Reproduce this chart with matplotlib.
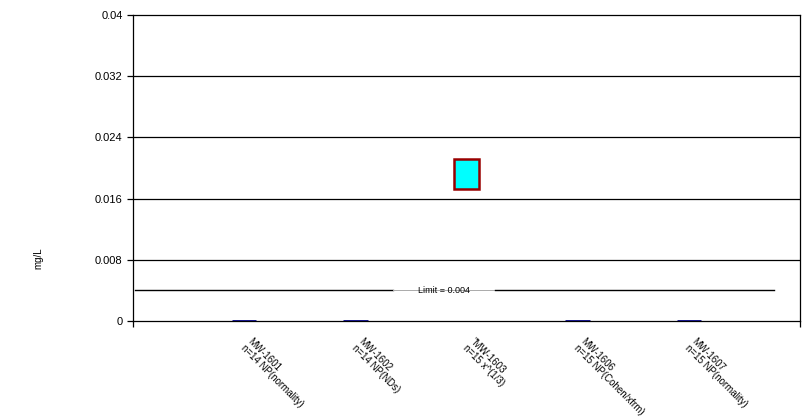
import matplotlib
matplotlib.use("Agg")
import matplotlib.pyplot as plt
import numpy as np

plt.rcParams['font.family'] = ['Liberation Sans', 'DejaVu Sans']

wells = ["MW-1601", "MW-1602", "\"MW-1603", "MW-1606", "MW-1607"]
notes = ["n=14 NP(normality)", "n=14 NP(NDs)", "n=15 x^(1/3)",
         "n=15 NP(Cohen/xfrm)", "n=15 NP(normality)"]
box_low = [0.0, 0.0, 0.0173, 0.0, 0.0]
box_high = [0.0, 0.0, 0.0212, 0.0, 0.0]
limit = 0.004
y_ticks = [0, 0.008, 0.016, 0.024, 0.032, 0.04]

fig = plt.figure(figsize=(8.1, 4.17), dpi=100)
ax = fig.add_axes([0.1642, 0.2302, 0.8235, 0.7338])

x = np.arange(1, len(wells) + 1)
heights = np.array(box_high) - np.array(box_low)

# grid lines first
for yt in y_ticks[1:-1]:
    ax.axhline(yt, color="black", lw=0.9, zorder=1)

# boxes
for xi, lo, h in zip(x, box_low, heights):
    if h > 0:
        ax.bar(xi, h, bottom=lo, width=0.23, color="#00ffff",
               edgecolor="#990000", linewidth=1.8, zorder=3)
    else:
        ax.plot([xi - 0.11, xi + 0.11], [lo, lo], color="#000080",
                lw=2, zorder=3, solid_capstyle="butt")

# limit line with label
ax.plot([0.02, 2.34], [limit, limit], color="black", lw=1.0, zorder=2)
ax.plot([2.34, 3.26], [limit, limit], color="#aaaaaa", lw=0.7, zorder=2)
ax.plot([3.26, 5.77], [limit, limit], color="black", lw=1.0, zorder=2)
ax.text(2.8, limit, "Limit = " + str(limit), fontsize=6.5,
        ha="center", va="center", zorder=4)

ax.set_xlim(0, 6)
ax.set_ylim(0, 0.04)
ax.set_yticks(y_ticks)
ax.set_yticklabels(["0", "0.008", "0.016", "0.024", "0.032", "0.04"], fontsize=8)
ax.set_xticks([0, 6])
ax.set_xticklabels([])
ax.tick_params(axis="both", direction="out", length=4, width=0.9)
for s in ax.spines.values():
    s.set_linewidth(0.9)

for xi, w, n in zip(x, wells, notes):
    ax.annotate(w + "\n" + n, xy=(xi, 0), xycoords=("data", "axes fraction"),
                xytext=(6, -11), textcoords="offset points", fontsize=7,
                rotation=-45, rotation_mode="anchor", ha="left", va="top",
                linespacing=0.95)

fig.text(0.047, 0.38, "mg/L", rotation=90, fontsize=7, ha="center", va="center")

fig.savefig("out.png", dpi=100)
